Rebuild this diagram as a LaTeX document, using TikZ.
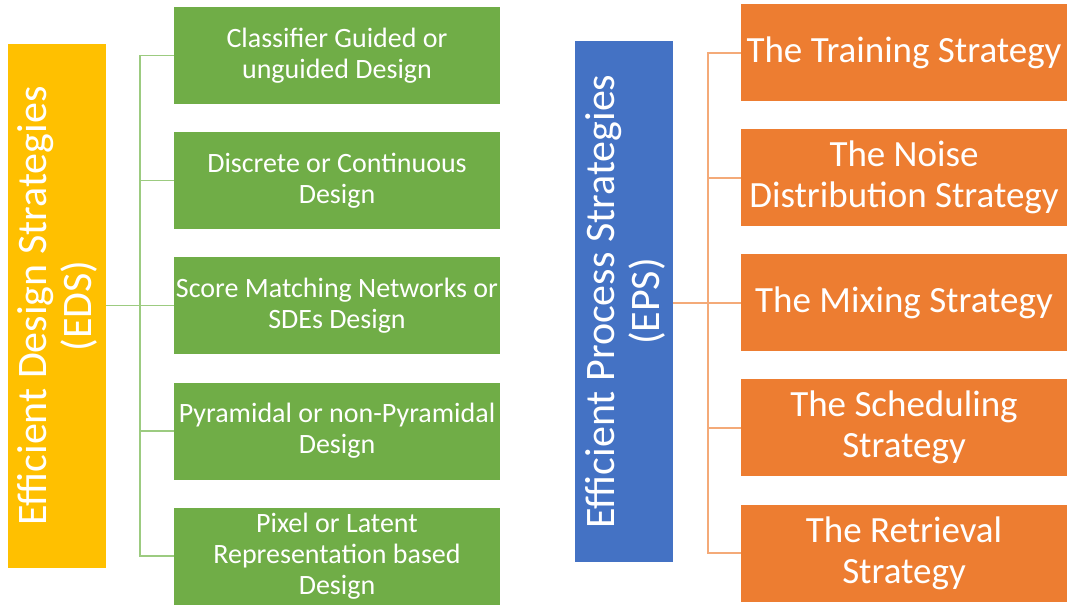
\documentclass[tikz,border=0pt]{standalone}
\usepackage{fontspec}
\setmainfont{Carlito}
\definecolor{gbox}{HTML}{70AD47}
\definecolor{gline}{HTML}{9CCB80}
\definecolor{obox}{HTML}{ED7D31}
\definecolor{oline}{HTML}{F4AA78}
\definecolor{ybox}{HTML}{FFC000}
\definecolor{bbox}{HTML}{4472C4}
\tikzset{
  greenbox/.style={rectangle, fill=gbox, draw=none, minimum width=326pt, minimum height=97pt, inner sep=0pt, align=center, text=white, font=\fontsize{28}{31}\selectfont},
  orangebox/.style={rectangle, fill=obox, draw=none, minimum width=326pt, minimum height=97pt, inner sep=0pt, align=center, text=white, font=\fontsize{37}{41}\selectfont},
  sidebox/.style={rectangle, draw=none, minimum width=98pt, inner sep=0pt, align=center, text=white, font=\fontsize{42}{45}\selectfont},
  gconn/.style={draw=gline, line width=1.6pt},
  oconn/.style={draw=oline, line width=2pt},
}
\begin{document}
\begin{tikzpicture}[x=1pt,y=-1pt]
\useasboundingbox (0,0) rectangle (1069,605);
% left side
\node[sidebox, fill=ybox, minimum height=524pt] (eds) at (57,306) {\hspace*{7pt}\rotatebox{90}{\begin{tabular}{@{}c@{}}Efficient Design Strategies\\(EDS)\end{tabular}}};
\node[greenbox] (g1) at (337,55.5) {Classifier Guided or\\unguided Design};
\node[greenbox] (g2) at (337,180.5) {Discrete or Continuous\\Design};
\node[greenbox] (g3) at (337,305.5) {Score Matching Networks or\\SDEs Design};
\node[greenbox] (g4) at (337,431) {Pyramidal or non-Pyramidal\\Design};
\node[greenbox] (g5) at (337,556) {Pixel or Latent\\Representation based\\Design};
\coordinate (gb) at (140,0);
\draw[gconn] (eds.east |- g3.west) -- (g3.west);
\draw[gconn] (g1.west) -- (g1.west -| gb) -- (g5.west -| gb) -- (g5.west);
\draw[gconn] (g2.west) -- (g2.west -| gb);
\draw[gconn] (g4.west) -- (g4.west -| gb);
% right side
\node[sidebox, fill=bbox, minimum height=521pt] (eps) at (624,301.5) {\hspace*{7pt}\rotatebox{90}{\begin{tabular}{@{}c@{}}Efficient Process Strategies\\(EPS)\end{tabular}}};
\node[orangebox] (o1) at (904,52.5) {The Training Strategy};
\node[orangebox] (o2) at (904,177.5) {The Noise\\Distribution Strategy};
\node[orangebox] (o3) at (904,302.5) {The Mixing Strategy};
\node[orangebox] (o4) at (904,427.5) {The Scheduling\\Strategy};
\node[orangebox] (o5) at (904,553) {The Retrieval\\Strategy};
\coordinate (ob) at (708,0);
\draw[oconn] (eps.east |- o3.west) -- (o3.west);
\draw[oconn] (o1.west) -- (o1.west -| ob) -- (o5.west -| ob) -- (o5.west);
\draw[oconn] (o2.west) -- (o2.west -| ob);
\draw[oconn] (o4.west) -- (o4.west -| ob);
\end{tikzpicture}
\end{document}
